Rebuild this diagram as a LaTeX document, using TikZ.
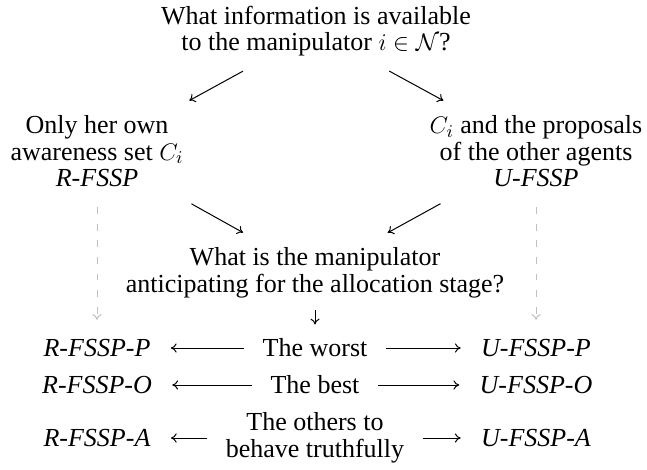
\documentclass[tikz,border=0pt]{standalone}
\usepackage{fontspec}
\setmainfont{Liberation Serif}
\usetikzlibrary{arrows.meta}
\begin{document}
\begin{tikzpicture}[x=0.5pt,y=-0.5pt,
  every node/.style={inner sep=0pt, font=\fontsize{13}{13.3}\selectfont},
  txt/.style={align=center, anchor=north},
  arr/.style={line width=0.5pt, -{Computer Modern Rightarrow[length=2.9pt,width=4.6pt]}},
  dasharr/.style={arr, draw=black!25, dash pattern=on 3.4pt off 4.9pt},
  hgap/.style={shorten <=9pt, shorten >=10pt}]
\useasboundingbox (0,0) rectangle (647,470);
% nodes
\node[txt] (q1) at (316,5.5) {What information is available\\to the manipulator $i\in\mathcal{N}$?};
\node[txt] (L) at (97,115) {Only her own\\awareness set $C_i$\\\textit{R-FSSP}};
\node[txt] (R) at (536,115) {$C_i$ and the proposals\\of the other agents\\\textit{U-FSSP}};
\node[txt] (q2) at (315,247.2) {What is the manipulator\\anticipating for the allocation stage?};
\node (RP) at (97,348) {\textit{R-FSSP-P}};
\node (W) at (315,348) {The worst};
\node (UP) at (536,348) {\textit{U-FSSP-P}};
\node (RO) at (97,385) {\textit{R-FSSP-O}};
\node (B) at (315,385) {The best};
\node (UO) at (536,385) {\textit{U-FSSP-O}};
\node (RA) at (97,438) {\textit{R-FSSP-A}};
\node[align=center] (T) at (315,438) {The others to\\behave truthfully};
\node (UA) at (536,438) {\textit{U-FSSP-A}};
% connectors
\draw[arr, shorten <=15pt, shorten >=15pt] (q1) -- (L);
\draw[arr, shorten <=15pt, shorten >=15pt] (q1) -- (R);
\draw[arr, shorten <=17pt, shorten >=15pt] (L) -- (q2);
\draw[arr, shorten <=17pt, shorten >=15pt] (R) -- (q2);
\draw[arr, shorten <=6pt, shorten >=7pt] (q2) -- (W);
\draw[dasharr, shorten <=10pt, shorten >=9.5pt] (L) -- (RP);
\draw[dasharr, shorten <=10pt, shorten >=9.5pt] (R) -- (UP);
\draw[arr, hgap] (W) -- (RP);
\draw[arr, hgap] (W) -- (UP);
\draw[arr, hgap] (B) -- (RO);
\draw[arr, hgap] (B) -- (UO);
\draw[arr, hgap] (T) -- (RA);
\draw[arr, hgap] (T) -- (UA);
\end{tikzpicture}
\end{document}
